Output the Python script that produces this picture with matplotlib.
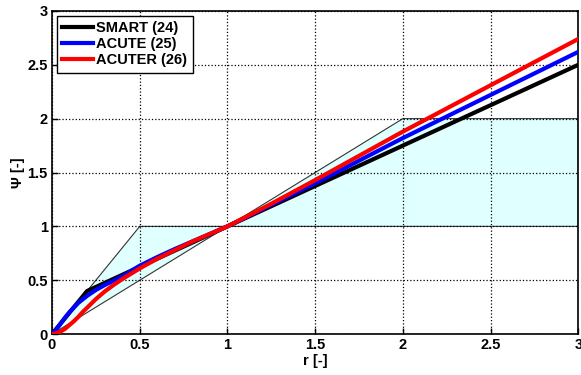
import matplotlib
matplotlib.use("Agg")
import matplotlib.pyplot as plt

plt.rcParams["font.family"] = ["Liberation Sans", "DejaVu Sans"]
plt.rcParams["font.weight"] = "bold"

# TVD second-order region (Sweby)
low_r = [0, 0.5, 1, 0]
low_psi = [0, 1, 1, 0]
high_r = [1, 2, 3, 3, 1]
high_psi = [1, 2, 2, 1, 1]

# limiter curves
smart_r = [0, 0.2, 3]
smart_psi = [0, 0.4, 2.5]

acute_r = [0, 0.025, 0.05, 0.075, 0.1, 0.15, 0.2, 0.25, 0.3, 0.35, 0.4, 0.5, 0.6,
           0.7, 0.8, 0.9, 1.0, 1.5, 2.0, 2.5, 3.0]
acute_psi = [0, 0.045, 0.10, 0.155, 0.205, 0.29, 0.355, 0.41, 0.455, 0.495, 0.535,
             0.635, 0.715, 0.79, 0.86, 0.93, 1.0, 1.40, 1.82, 2.22, 2.62]

acuter_r = [0, 0.025, 0.05, 0.075, 0.1, 0.125, 0.15, 0.175, 0.2, 0.25, 0.3, 0.35,
            0.4, 0.5, 0.6, 0.7, 0.8, 0.9, 1.0, 1.25, 1.5, 2.0, 2.5, 3.0]
acuter_psi = [0, 0.008, 0.025, 0.05, 0.085, 0.12, 0.16, 0.205, 0.245, 0.325, 0.395,
              0.455, 0.51, 0.61, 0.70, 0.78, 0.86, 0.93, 1.0, 1.21, 1.43, 1.88,
              2.31, 2.74]

fig = plt.figure(figsize=(5.81, 3.75), dpi=100)
ax = fig.add_axes([0.0895, 0.109, 0.906, 0.862])

for rr, pp in [(low_r, low_psi), (high_r, high_psi)]:
    ax.fill(rr, pp, facecolor="#e0ffff", edgecolor="#333333", linewidth=0.8, zorder=1)

ax.plot(smart_r, smart_psi, color="black", lw=3, label="SMART (24)", zorder=3)
ax.plot(acute_r, acute_psi, color="blue", lw=3, label="ACUTE (25)", zorder=4)
ax.plot(acuter_r, acuter_psi, color="red", lw=3, label="ACUTER (26)", zorder=5)

ax.set_xlim(0, 3)
ax.set_ylim(0, 3)
ax.set_xticks([0, 0.5, 1, 1.5, 2, 2.5, 3])
ax.set_xticklabels(["0", "0.5", "1", "1.5", "2", "2.5", "3"])
ax.set_yticks([0, 0.5, 1, 1.5, 2, 2.5, 3])
ax.set_yticklabels(["0", "0.5", "1", "1.5", "2", "2.5", "3"])
ax.tick_params(direction="in", length=4, width=1, labelsize=10.5, pad=3)
ax.grid(True, linestyle=":", color="black", linewidth=0.9)
ax.set_axisbelow(False)
for s in ax.spines.values():
    s.set_linewidth(1.2)

ax.set_xlabel("r [-]", fontsize=10.5, fontweight="bold", labelpad=1)
ax.set_ylabel("Ψ [-]", fontsize=10.5, fontweight="bold", labelpad=2)

leg = ax.legend(loc="upper left", fontsize=10.5, handlelength=2.1, borderaxespad=0.35,
                fancybox=False, framealpha=1, edgecolor="black", borderpad=0.35,
                labelspacing=0.15, handletextpad=0.25)
leg.get_frame().set_linewidth(1.0)

fig.savefig("out.png", dpi=100)
